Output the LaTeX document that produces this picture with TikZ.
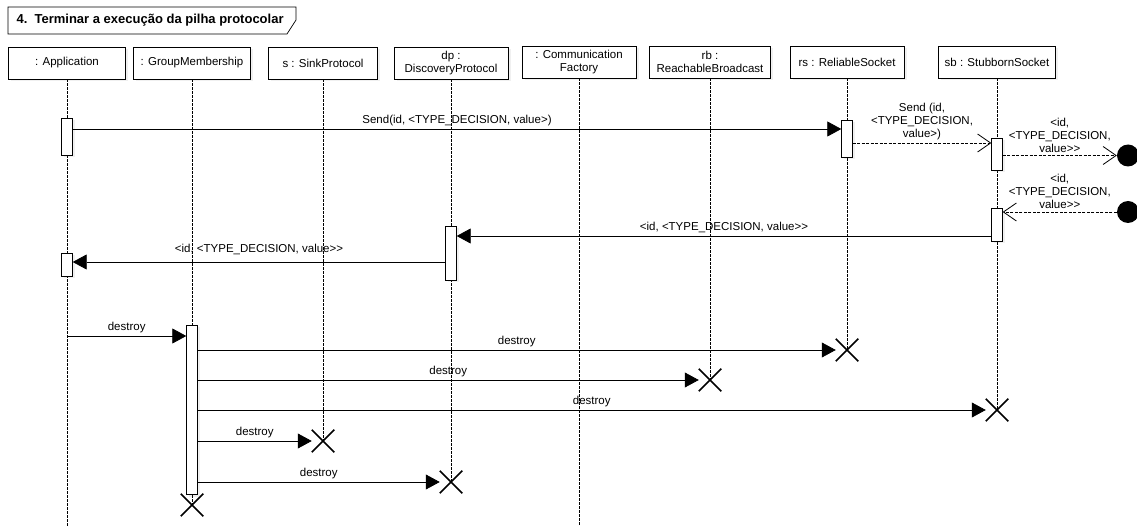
\documentclass[tikz,border=0pt]{standalone}
\usepackage{fontspec}
\setmainfont{Liberation Sans}
\usepackage{tikz}
\usetikzlibrary{arrows.meta,shapes.misc,shadows}

\begin{document}
\begin{tikzpicture}[x=1pt,y=-1pt,
        every node/.style={font=\fontsize{11.5}{13}\selectfont},
        softshadow/.style={drop shadow={opacity=0.12,shadow xshift=2.5pt,shadow yshift=-2.5pt}},
        head/.style={draw,fill=white,minimum height=32pt,align=center,inner sep=1pt,softshadow},
        life/.style={dash pattern=on 2.5pt off 1.5pt,line width=0.6pt},
        act/.style={draw,fill=white,minimum width=11pt,inner sep=0pt,softshadow},
        call/.style={line width=0.8pt,-{Triangle[length=14pt,width=15pt]}},
        reply/.style={line width=0.7pt,dash pattern=on 3pt off 1.5pt,-{Straight Barb[length=13pt,width=18pt,line width=0.8pt]}},
        endmark/.style={cross out,draw,line width=1.5pt,minimum size=21pt,inner sep=0pt},
        dotend/.style={circle,fill,minimum size=22pt,inner sep=0pt},
        lbl/.style={midway,above=2pt,align=center,inner sep=1pt}]
    \useasboundingbox (0,0) rectangle (1137,526);
    % frame title
    \draw[line width=0.7pt,fill=white] (8,7) -- (296,7) -- (296,20) -- (287,34) -- (8,34) -- cycle;
    \node[anchor=west,font=\bfseries\fontsize{13}{15}\selectfont] (title) at (13,20.5) {4.\ \ Terminar a execução da pilha protocolar};
    % lifeline heads
    \node[head,minimum width=117pt] (app) at (67,63) {: Application};
    \node[head,minimum width=117pt] (gm) at (192,63) {: GroupMembership};
    \node[head,minimum width=109pt] (sink) at (323,63) {s : SinkProtocol};
    \node[head,minimum width=114pt] (dp) at (451,63) {dp :\\DiscoveryProtocol};
    \node[head,minimum width=114pt] (cf) at (579,62) {: Communication\\Factory};
    \node[head,minimum width=121pt] (rb) at (710,62) {rb :\\ReachableBroadcast};
    \node[head,minimum width=114pt] (rs) at (847,62) {rs : ReliableSocket};
    \node[head,minimum width=117pt] (sb) at (997,62) {sb : StubbornSocket};
    % destruction marks
    \node[endmark] (xrs) at (847,350) {};
    \node[endmark] (xrb) at (710,380) {};
    \node[endmark] (xsb) at (997,410) {};
    \node[endmark] (xsink) at (323,441) {};
    \node[endmark] (xdp) at (451,482) {};
    \node[endmark] (xgm) at (192,505) {};
    % lifelines
    \draw[life] (app) -- (app |- 0,526);
    \draw[life] (gm) -- (xgm.center);
    \draw[life] (sink) -- (xsink.center);
    \draw[life] (dp) -- (xdp.center);
    \draw[life] (cf) -- (cf |- 0,526);
    \draw[life] (rb) -- (xrb.center);
    \draw[life] (rs) -- (xrs.center);
    \draw[life] (sb) -- (xsb.center);
    % activations
    \node[act,minimum height=37pt] (appa1) at (67,136.5) {};
    \node[act,minimum height=23pt] (appa2) at (67,264.5) {};
    \node[act,minimum height=37pt] (rsa) at (847,138.5) {};
    \node[act,minimum height=32pt] (sba1) at (997,154) {};
    \node[act,minimum height=33pt] (sba2) at (997,224.5) {};
    \node[act,minimum height=54pt] (dpa) at (451,253) {};
    \node[act,minimum height=169pt] (gma) at (192,409.5) {};
    % lost and found ends
    \node[dotend] (lost) at (1128,155.5) {};
    \node[dotend] (found) at (1128,212) {};
    % messages
    \draw[call] (appa1.east |- 0,129) -- node[lbl] {Send(id, <TYPE\_DECISION, value>)} (rsa.west |- 0,129);
    \draw[reply] (rsa.east |- 0,143) -- node[lbl,above=0pt] {Send (id,\\<TYPE\_DECISION,\\value>)} (sba1.west |- 0,143);
    \draw[reply] (sba1.east |- lost) -- node[lbl,above=0pt] {<id,\\<TYPE\_DECISION,\\value>{}>} (lost.west);
    \draw[reply] (found.west) -- node[lbl,above=0pt] {<id,\\<TYPE\_DECISION,\\value>{}>} (sba2.east |- found);
    \draw[call] (sba2.west |- 0,236) -- node[lbl,above=0pt] {<id, <TYPE\_DECISION, value>{}>} (dpa.east |- 0,236);
    \draw[call] (dpa.west |- 0,262) -- node[lbl,above=4pt] {<id, <TYPE\_DECISION, value>{}>} (appa2.east |- 0,262);
    % destroy sequence
    \draw[call] (app |- 0,336) -- node[lbl] {destroy} (gma.west |- 0,336);
    \draw[call] (gma.east |- xrs) -- node[lbl] {destroy} (xrs.west);
    \draw[call] (gma.east |- xrb) -- node[lbl] {destroy} (xrb.west);
    \draw[call] (gma.east |- xsb) -- node[lbl] {destroy} (xsb.west);
    \draw[call] (gma.east |- xsink) -- node[lbl] {destroy} (xsink.west);
    \draw[call] (gma.east |- xdp) -- node[lbl] {destroy} (xdp.west);
\end{tikzpicture}
\end{document}
